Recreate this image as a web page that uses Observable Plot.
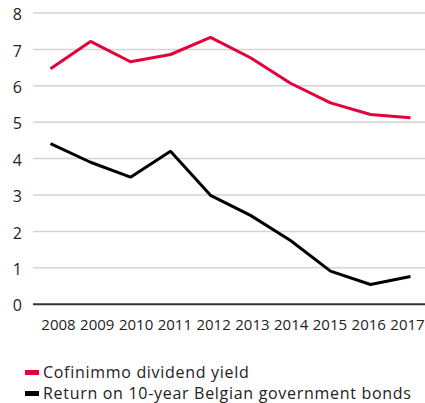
<!DOCTYPE html>
<html>
<head>
<meta charset="utf-8">
<script src="https://cdn.jsdelivr.net/npm/d3@7"></script>
<script src="https://cdn.jsdelivr.net/npm/@observablehq/plot@0.6"></script>
<style>
  html, body { margin: 0; padding: 0; background: #fff; }
  body { width: 425px; height: 403px; overflow: hidden; font-family: "Open Sans", sans-serif; }
  #chart svg { display: block; }
  .legend { margin-top: 17px; padding-left: 25px; font-size: 16px; color: #222; line-height: 21px; letter-spacing: 0.7px; }
  .legend .item { display: flex; align-items: center; white-space: nowrap; }
  .legend .sw { width: 14px; height: 5px; margin-right: 4px; display: inline-block; }
</style>
</head>
<body>
<div id="chart"></div>
<div class="legend" id="legend"></div>
<script>
const years = ["2008","2009","2010","2011","2012","2013","2014","2015","2016","2017"];
const dividendYield = [6.47, 7.22, 6.66, 6.86, 7.33, 6.77, 6.07, 5.53, 5.21, 5.12];
const bondReturn = [4.41, 3.90, 3.49, 4.20, 2.99, 2.44, 1.75, 0.91, 0.54, 0.76];
const seriesNames = ["Cofinimmo dividend yield", "Return on 10-year Belgian government bonds"];
const seriesColors = ["#e4003a", "#000000"];
const yTicks = [0, 1, 2, 3, 4, 5, 6, 7, 8];

const rows = [];
years.forEach((y, i) => {
  rows.push({year: y, value: dividendYield[i], series: seriesNames[0]});
  rows.push({year: y, value: bondReturn[i], series: seriesNames[1]});
});

// styling: in the reference the year labels run slightly tighter than the data points
const nudge = i => 8 - 11 * i / (years.length - 1);

const chart = Plot.plot({
  width: 425,
  height: 345,
  marginLeft: 33,
  marginRight: 0,
  marginTop: 12.5,
  marginBottom: 41.3,
  style: {fontFamily: "Open Sans, sans-serif", fontSize: "16px", color: "#222", background: "#fff"},
  x: {type: "point", domain: years, padding: 0, insetLeft: 16, insetRight: 14, label: null, tickSize: 0, tickPadding: 15.5},
  y: {domain: [0, 8], ticks: yTicks, label: null, tickSize: 0, tickPadding: 11.5},
  color: {domain: seriesNames, range: seriesColors},
  marks: [
    Plot.gridY(yTicks.filter(d => d > 0), {stroke: "#d4d4d4", strokeOpacity: 1, strokeWidth: 1.5}),
    Plot.axisY({ticks: yTicks, tickSize: 0, tickPadding: 11.5, dy: 2, fontSize: 16, label: null}),
    ...years.map((yr, i) => Plot.axisX({ticks: [yr], tickSize: 0, tickPadding: 15.5, dx: nudge(i), fontSize: 15, label: null})),
    Plot.ruleY([0], {stroke: "#333", strokeWidth: 2}),
    Plot.line(rows, {x: "year", y: "value", z: "series", stroke: "series", strokeWidth: 3, strokeLinejoin: "miter", strokeLinecap: "butt"})
  ]
});
document.getElementById("chart").appendChild(chart);

const legend = document.getElementById("legend");
seriesNames.forEach((name, i) => {
  const item = document.createElement("div");
  item.className = "item";
  const sw = document.createElement("span");
  sw.className = "sw";
  sw.style.background = seriesColors[i];
  item.appendChild(sw);
  item.appendChild(document.createTextNode(name));
  legend.appendChild(item);
});
</script>
</body>
</html>
